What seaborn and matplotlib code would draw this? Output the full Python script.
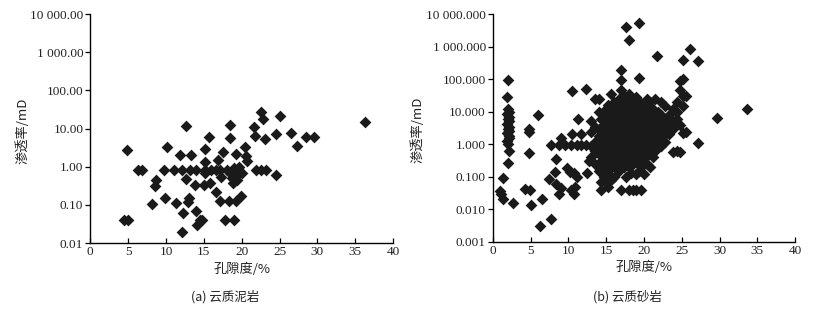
import matplotlib
matplotlib.use("Agg")
import matplotlib.pyplot as plt
import seaborn as sns
import pandas as pd

# ---------------- data ----------------
# (a) 云质泥岩 : porosity (%) and permeability (mD)
mud_por = [4.5, 5.0, 4.8, 6.3, 6.8, 8.1, 8.5, 8.7, 9.8, 10.1, 9.9, 11.0, 11.3, 11.8,
           12.1, 12.2, 12.1, 12.6, 12.7, 12.9, 13.0, 13.2, 13.3, 13.8, 13.9, 14.0,
           14.1, 14.5, 14.8, 15.0, 15.1, 15.2, 15.2, 15.2, 15.7, 15.8, 16.0, 16.6,
           16.9, 17.1, 17.1, 17.5, 17.3, 17.8, 18.0, 18.3, 18.4, 18.4, 18.5, 18.7,
           19.0, 19.0, 19.2, 19.3, 19.3, 19.4, 19.5, 19.7, 19.9, 20.0, 20.5, 20.6,
           20.7, 21.6, 21.8, 21.9, 22.5, 22.8, 22.6, 23.1, 23.2, 24.5, 24.5, 25.1,
           26.5, 27.3, 28.5, 29.6, 36.3, 16.6, 18.8, 19.1]
mud_perm = [0.04, 0.04, 2.7, 0.83, 0.83, 0.105, 0.32, 0.45, 0.83, 3.2, 0.15, 0.83,
            0.11, 2.0, 0.83, 0.062, 0.02, 11.5, 0.48, 0.12, 0.15, 0.83, 2.0, 0.33,
            0.07, 0.83, 0.03, 0.04, 0.04, 0.34, 2.9, 1.3, 0.83, 0.67, 6.0, 0.37,
            0.83, 0.22, 1.5, 0.83, 0.13, 2.5, 0.55, 0.04, 0.83, 0.13, 5.8, 12.2,
            0.7, 0.5, 0.04, 0.9, 0.6, 0.13, 2.2, 0.45, 0.8, 1.0, 0.17, 0.7, 3.2,
            1.9, 1.4, 11.0, 6.3, 0.8, 27.0, 18.0, 0.8, 5.2, 0.8, 7.0, 0.6, 22.0,
            7.6, 3.4, 6.1, 6.1, 14.5, 0.83, 0.38, 0.55]

# (b) 云质砂岩 : columns of (porosity, [permeabilities])
sand_columns = [
    (0.9, [0.036]), (1.1, [0.03]), (1.3, [0.094]), (1.4, [0.021]),
    (1.9, [28, 8.5, 4.2, 2.2, 1.25]),
    (2.0, [93, 12, 6, 3.0, 1.05, 0.27]),
    (2.1, [10, 7, 5, 3.5, 2.5, 1.8, 1.5, 0.6]),
    (2.7, [0.016]),
    (4.3, [0.041]), (4.8, [2.9, 2.4, 0.55]), (4.9, [0.04]), (5.1, [0.014]),
    (6.0, [8.1]), (6.3, [0.003]), (6.5, [0.02]), (7.5, [0.088]), (7.7, [0.93, 0.005]),
    (8.2, [0.14]), (8.4, [0.34, 0.06]), (8.8, [0.93, 0.03]), (9.0, [1.6, 0.045]),
    (9.6, [0.93]), (9.8, [0.19]), (10.2, [0.14]), (10.3, [0.93, 0.04]),
    (10.5, [2.0, 43]), (10.8, [0.13, 0.03]), (10.9, [0.05]), (11.1, [0.93, 0.1]),
    (11.3, [6.1]), (11.7, [2.0, 0.93]), (12.4, [50, 0.93]), (12.5, [0.13]),
    (12.7, [0.3]),
    (13.0, [0.4, 0.9, 2.4, 5]),
    (13.5, [0.25, 0.6, 1.2, 3.5, 25]),
    (14.0, [0.15, 0.5, 1.0, 1.8, 3, 10, 25]),
    (14.3, [0.039, 0.07, 0.3, 0.8, 1.5, 6]),
    (14.7, [0.1, 0.2, 0.45, 0.7, 1.1, 2.2, 4, 8]),
    (15.0, [0.07, 0.15, 0.3, 0.55, 0.9, 1.4, 2, 3.2, 5, 12]),
    (15.3, [0.05, 0.12, 0.25, 0.4, 0.65, 1.0, 1.6, 2.5, 7, 16]),
    (15.6, [0.08, 0.18, 0.35, 0.6, 0.85, 1.2, 1.9, 3, 4.5, 9, 35]),
    (16.0, [0.1, 0.22, 0.4, 0.7, 1.0, 1.3, 2.2, 3.6, 6, 11, 20]),
    (16.3, [0.3, 0.5, 0.8, 1.1, 1.7, 2.6, 4, 7.5, 14]),
    (16.7, [0.15, 0.35, 0.6, 0.9, 1.4, 2, 3, 5, 9, 18, 25]),
    (17.0, [0.04, 0.25, 0.45, 0.75, 1.2, 1.8, 2.8, 4.5, 7, 12, 47, 95, 190]),
    (17.3, [0.2, 0.5, 0.8, 1.3, 2.1, 3.3, 6, 10, 22, 30]),
    (17.6, [0.1, 0.3, 0.6, 1.0, 1.6, 2.5, 4, 8, 15, 4150]),
    (18.0, [0.04, 0.2, 0.4, 0.7, 1.1, 1.9, 3, 5, 9, 16, 35, 1630]),
    (18.3, [0.13, 0.35, 0.6, 1.0, 1.5, 2.3, 4, 6.5, 12, 25]),
    (18.6, [0.04, 0.25, 0.5, 0.85, 1.3, 2, 3.2, 5.5, 10, 20]),
    (19.0, [0.04, 0.12, 0.3, 0.7, 1.1, 1.7, 2.6, 4.5, 8, 14, 28]),
    (19.3, [0.15, 0.4, 0.9, 1.4, 2.2, 3.5, 6, 11, 107, 5300]),
    (19.6, [0.04, 0.2, 0.5, 1.0, 1.6, 2.5, 4, 7, 18]),
    (20.0, [0.12, 0.35, 0.7, 1.2, 1.9, 3, 5, 9, 15]),
    (20.4, [0.25, 0.55, 0.9, 1.5, 2.4, 4, 7, 12, 25]),
    (20.8, [0.2, 0.6, 1.0, 1.8, 3, 5, 10, 20]),
    (21.2, [0.4, 0.8, 1.3, 2.2, 3.8, 6.5, 12]),
    (21.5, [0.6, 1.0, 1.6, 2.7, 4.5, 8, 25]),
    (21.7, [500]),
    (21.9, [1.1, 2.0, 3.5, 6, 10]),
    (22.3, [0.9, 1.5, 2.5, 4.5, 8, 20]),
    (22.8, [1.2, 2, 3.5, 6, 15]),
    (23.3, [2.1, 2.4, 4, 8]),
    (23.8, [0.58, 3, 5, 12]),
    (24.4, [0.6, 6, 10, 20]),
    (24.8, [0.58, 4, 45, 90]),
    (25.2, [2.2, 15, 30, 100, 400]),
    (25.6, [2.4, 30]),
    (26.1, [850]),
    (27.1, [1.1, 370]),
    (29.6, [6.3]),
    (33.6, [12]),
]

mud_yticks = [0.01, 0.1, 1, 10, 100, 1000, 10000]
mud_ylabels = ["0.01", "0.10", "1.00", "10.00", "100.00", "1 000.00", "10 000.00"]
sand_yticks = [0.001, 0.01, 0.1, 1, 10, 100, 1000, 10000]
sand_ylabels = ["0.001", "0.010", "0.100", "1.000", "10.000", "100.000",
                "1 000.000", "10 000.000"]
xticks = [0, 5, 10, 15, 20, 25, 30, 35, 40]
xlabel = "孔隙度/%"
ylabel = "渗透率/mD"
captions = ["(a) 云质泥岩", "(b) 云质砂岩"]

# ---------------- build frames ----------------
mud_df = pd.DataFrame({"por": mud_por, "perm": mud_perm})
sand_x, sand_y = [], []
for px, ys in sand_columns:
    for yv in ys:
        sand_x.append(px)
        sand_y.append(yv)
sand_df = pd.DataFrame({"por": sand_x, "perm": sand_y})

# ---------------- plot ----------------
sns.set_theme(style="white")
plt.rcParams["font.family"] = ["Noto Sans CJK SC", "DejaVu Sans"]

fig = plt.figure(figsize=(8.24, 3.14), dpi=100)
ax1 = fig.add_axes([0.1096, 0.226, 0.3674, 0.729])
ax2 = fig.add_axes([0.598, 0.230, 0.367, 0.725])

marker_color = "#1a1a1a"
tick_font = {"family": ["Liberation Serif"], "size": 9.5}

for ax, df, yt, yl, ymin, cap in [
    (ax1, mud_df, mud_yticks, mud_ylabels, 0.01, captions[0]),
    (ax2, sand_df, sand_yticks, sand_ylabels, 0.001, captions[1]),
]:
    sns.scatterplot(data=df, x="por", y="perm", ax=ax, marker="D", s=36,
                    color=marker_color, linewidth=0, legend=False)
    ax.set_yscale("log")
    ax.set_ylim(ymin, 10000)
    ax.set_xlim(0, 40)
    ax.set_yticks(yt)
    ax.set_yticklabels(yl, fontdict=tick_font)
    ax.minorticks_off()
    ax.set_xticks(xticks)
    ax.set_xticklabels([str(v) for v in xticks], fontdict=tick_font)
    for s in ["top", "right"]:
        ax.spines[s].set_visible(False)
    for s in ["left", "bottom"]:
        ax.spines[s].set_color("black")
        ax.spines[s].set_linewidth(1.0)
    ax.tick_params(axis="y", direction="out", length=3.5, width=0.9,
                   color="black", pad=1.5, left=True, labelcolor="#222222")
    ax.tick_params(axis="x", direction="in", length=3.5, width=0.9,
                   color="black", pad=2, bottom=True, labelcolor="#222222")
    ax.set_xlabel(xlabel, fontsize=9.5, color="#222222")
    ax.set_ylabel(ylabel, fontsize=9.5, color="#222222")
    ax.xaxis.set_label_coords(0.5, -0.085)

ax1.yaxis.set_label_coords(-0.2, 0.49)
ax2.yaxis.set_label_coords(-0.225, 0.49)

fig.text(0.273, 0.054, captions[0], ha="center", va="center", fontsize=9,
         color="#222222")
fig.text(0.761, 0.054, captions[1], ha="center", va="center", fontsize=9,
         color="#222222")

fig.savefig("out.png", dpi=100, facecolor="white")
